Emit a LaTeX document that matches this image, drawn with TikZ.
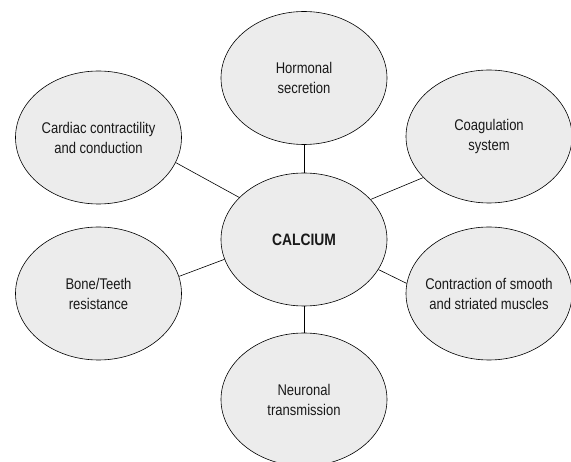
\documentclass[tikz,border=0pt]{standalone}
\usepackage{fontspec}
\setmainfont[FakeStretch=0.84]{Liberation Sans}
\usetikzlibrary{shapes.geometric}

\begin{document}
\begin{tikzpicture}[
  x=1pt, y=-1pt,
  font=\fontsize{15.5}{20}\selectfont,
  line width=0.6pt
]
\tikzset{
    bubble/.style = {ellipse, draw=black, align=center, fill=gray!15, text=black!90,
                     minimum width=166pt, minimum height=133pt, inner xsep=-20pt, inner ysep=0pt},
    link/.style = {draw=black}
}
\useasboundingbox (0,0) rectangle (571,462);
\node[bubble] (calc) at (304,239.5) {\fontsize{16.5}{20}\selectfont\textbf{CALCIUM}};
\node[bubble] (horm) at (304,78) {Hormonal\\secretion};
\node[bubble] (card) at (98.5,137.5) {Cardiac contractility\\and conduction};
\node[bubble] (coag) at (489,136.5) {Coagulation\\system};
\node[bubble] (bone) at (98.5,293.5) {Bone/Teeth\\resistance};
\node[bubble] (musc) at (489,293.5) {Contraction of smooth\\and striated muscles};
\node[bubble] (neur) at (304,399.5) {Neuronal\\transmission};
\draw[link] (horm.south) -- (calc.north);
\draw[link] (calc.south) -- (neur.north);
\draw[link] (card.-18) -- (calc.147);
\draw[link] (calc.31) -- (coag.212);
\draw[link] (calc.194) -- (bone.12);
\draw[link] (calc.-22) -- (musc.173);
\end{tikzpicture}
\end{document}
